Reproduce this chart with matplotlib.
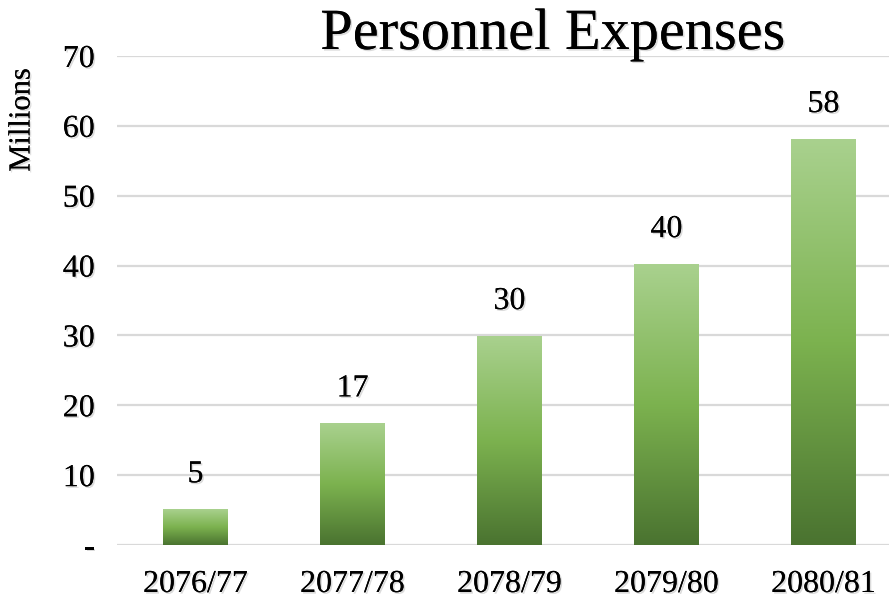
import numpy as np
import matplotlib
matplotlib.use("Agg")
import matplotlib.pyplot as plt
import matplotlib.patheffects as pe
from matplotlib.colors import LinearSegmentedColormap

# Chart data
years = ["2076/77", "2077/78", "2078/79", "2079/80", "2080/81"]
expenses = [5.1, 17.4, 29.9, 40.2, 58.1]
y_ticks = [0, 10, 20, 30, 40, 50, 60, 70]
y_tick_labels = ["-", "10", "20", "30", "40", "50", "60", "70"]

FONT = "Liberation Serif"
shadow = [pe.withSimplePatchShadow(offset=(1.2, -1.2), shadow_rgbFace="#999999", alpha=0.35),
          pe.Normal()]

# green gradient, dark at bottom, light at top
green = LinearSegmentedColormap.from_list("green", ["#4a7330", "#7cb24f", "#a9d18e"])

fig = plt.figure(figsize=(8.89, 6.03), dpi=100)
ax = fig.add_axes([117 / 889, 58 / 603, 785 / 889, 489 / 603])

x = np.arange(len(years))
bars = ax.bar(x, expenses, width=0.41, color="none", edgecolor="none", zorder=3)

gradient = np.linspace(0, 1, 256).reshape(-1, 1)
for bar in bars:
    bx, by = bar.get_x(), bar.get_y()
    bw, bh = bar.get_width(), bar.get_height()
    img = ax.imshow(gradient, cmap=green, origin="lower", aspect="auto",
                    extent=(bx, bx + bw, by, by + bh), zorder=3)
    img.set_clip_path(bar)

for xi, val in zip(x, expenses):
    ax.annotate(f"{val:.0f}", (xi, val), xytext=(0, 19.5), textcoords="offset points",
                ha="center", va="baseline", fontsize=23, family=FONT,
                path_effects=shadow)

ax.set_xlim(-0.5, len(years) - 0.5)
ax.set_ylim(0, 70)
ax.set_yticks(y_ticks)
ax.set_yticklabels(y_tick_labels, fontsize=23, family=FONT)
ax.set_xticks(x)
ax.set_xticklabels(years, fontsize=23, family=FONT)
for lbl in ax.get_xticklabels() + ax.get_yticklabels():
    lbl.set_path_effects(shadow)
ax.tick_params(axis="both", length=0)
ax.tick_params(axis="y", pad=16)
ax.tick_params(axis="x", pad=18)

ax.grid(axis="y", color="#d9d9d9", linewidth=1.6, zorder=0)
ax.set_axisbelow(True)
for s in ax.spines.values():
    s.set_visible(False)

fig.text(22 / 889, 1 - 120 / 603, "Millions", rotation=90, ha="center", va="center",
         fontsize=22, family=FONT, path_effects=shadow)
fig.text(553 / 889, 1 - 35 / 603, "Personnel Expenses", ha="center", va="center",
         fontsize=42, family=FONT, path_effects=shadow, zorder=5)

fig.savefig("out.png", dpi=100)
